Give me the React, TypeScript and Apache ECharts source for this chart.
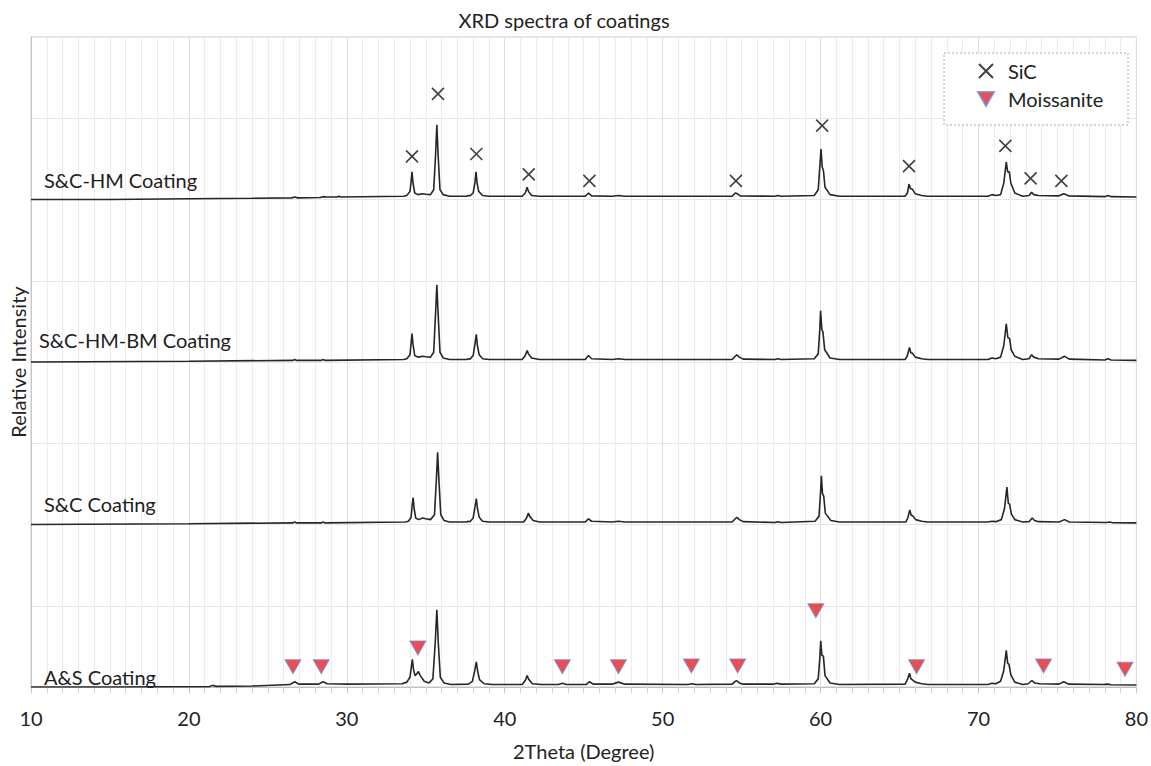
import React, { useEffect, useRef } from "react";
import * as echarts from "echarts";

const FONT = "Lato, 'Open Sans', sans-serif";

const seriesNames = ["S&C-HM Coating", "S&C-HM-BM Coating", "S&C Coating", "A&S Coating"];

const sHM: number[][] = [
  [10, 6.0], [15, 6.0], [20, 6.01], [24, 6.015], [26.5, 6.02], [26.7, 6.03], [26.9, 6.02], [28.3, 6.025], [28.5, 6.035], [28.7, 6.03],
  [29.4, 6.03], [29.5, 6.04], [29.6, 6.03], [33.6, 6.04], [33.8, 6.05], [34.0, 6.1], [34.08, 6.24], [34.13, 6.34], [34.19, 6.2], [34.3, 6.08],
  [34.5, 6.06], [34.8, 6.07], [35.0, 6.065], [35.3, 6.06], [35.5, 6.12], [35.62, 6.55], [35.7, 6.92], [35.78, 6.55], [35.9, 6.12], [36.1, 6.06],
  [36.5, 6.04], [37.6, 6.04], [37.7, 6.05], [37.8, 6.045], [38.0, 6.08], [38.12, 6.22], [38.18, 6.34], [38.25, 6.2], [38.35, 6.1], [38.6, 6.05],
  [39.0, 6.04], [41.1, 6.04], [41.3, 6.08], [41.42, 6.15], [41.5, 6.1], [41.7, 6.05], [42.2, 6.04], [45.1, 6.04], [45.3, 6.08], [45.5, 6.045],
  [46.8, 6.04], [47.2, 6.05], [47.6, 6.04], [54.4, 6.04], [54.6, 6.08], [54.75, 6.07], [54.9, 6.045], [57.1, 6.04], [57.3, 6.05], [57.5, 6.04],
  [59.6, 6.05], [59.85, 6.12], [59.95, 6.4], [60.03, 6.62], [60.1, 6.4], [60.18, 6.36], [60.28, 6.15], [60.6, 6.06], [61.2, 6.04], [65.35, 6.04],
  [65.5, 6.08], [65.6, 6.19], [65.7, 6.13], [65.8, 6.13], [66.0, 6.07], [66.4, 6.05], [66.8, 6.04], [70.6, 6.04], [70.85, 6.06], [71.1, 6.05],
  [71.4, 6.06], [71.6, 6.2], [71.76, 6.46], [71.85, 6.34], [71.95, 6.34], [72.05, 6.2], [72.3, 6.08], [72.8, 6.04], [73.2, 6.05], [73.36, 6.09],
  [73.5, 6.06], [73.8, 6.05], [75.1, 6.045], [75.4, 6.07], [75.7, 6.045], [78.0, 6.035], [78.2, 6.05], [78.4, 6.035], [80, 6.03],
];

const sHMBM: number[][] = [
  [10, 4.0], [20, 4.01], [26.6, 4.02], [26.7, 4.03], [26.8, 4.02], [28.4, 4.02], [28.5, 4.03], [28.6, 4.02], [33.6, 4.03], [33.8, 4.04],
  [34.0, 4.09], [34.08, 4.25], [34.13, 4.35], [34.19, 4.22], [34.3, 4.08], [34.5, 4.06], [34.8, 4.07], [35.0, 4.065], [35.3, 4.06], [35.5, 4.12],
  [35.62, 4.6], [35.7, 4.95], [35.78, 4.6], [35.9, 4.12], [36.1, 4.05], [36.5, 4.03], [37.6, 4.03], [37.7, 4.04], [37.8, 4.035], [38.0, 4.08],
  [38.12, 4.23], [38.2, 4.34], [38.27, 4.2], [38.38, 4.09], [38.6, 4.04], [39.0, 4.03], [41.1, 4.03], [41.3, 4.08], [41.42, 4.14], [41.5, 4.1],
  [41.7, 4.05], [42.2, 4.03], [45.1, 4.03], [45.3, 4.08], [45.5, 4.04], [46.8, 4.03], [47.2, 4.04], [47.6, 4.03], [54.4, 4.03], [54.6, 4.07],
  [54.7, 4.09], [54.85, 4.06], [55.1, 4.035], [57.1, 4.03], [57.3, 4.04], [57.5, 4.03], [59.6, 4.04], [59.85, 4.1], [59.95, 4.4], [60.0, 4.63],
  [60.08, 4.4], [60.15, 4.37], [60.26, 4.15], [60.6, 4.05], [61.2, 4.03], [65.35, 4.03], [65.5, 4.08], [65.63, 4.18], [65.72, 4.11], [65.8, 4.11],
  [66.0, 4.06], [66.4, 4.04], [66.8, 4.03], [70.6, 4.03], [70.85, 4.05], [71.1, 4.04], [71.4, 4.06], [71.6, 4.2], [71.76, 4.47], [71.86, 4.3],
  [71.97, 4.29], [72.07, 4.15], [72.3, 4.07], [72.8, 4.03], [73.2, 4.04], [73.36, 4.09], [73.5, 4.06], [73.8, 4.04], [75.1, 4.035], [75.45, 4.07],
  [75.75, 4.035], [78.0, 4.025], [78.2, 4.04], [78.4, 4.025], [80, 4.02],
];

const sSC: number[][] = [
  [10, 2.0], [20, 2.01], [26.6, 2.02], [26.7, 2.03], [26.8, 2.02], [28.4, 2.02], [28.5, 2.03], [28.6, 2.02], [33.7, 2.03], [33.9, 2.04],
  [34.07, 2.09], [34.14, 2.24], [34.2, 2.33], [34.26, 2.2], [34.36, 2.08], [34.55, 2.06], [34.8, 2.08], [35.0, 2.07], [35.3, 2.06], [35.55, 2.12],
  [35.67, 2.55], [35.75, 2.89], [35.83, 2.55], [35.95, 2.12], [36.15, 2.05], [36.5, 2.03], [37.6, 2.03], [37.7, 2.04], [37.8, 2.035], [38.0, 2.08],
  [38.12, 2.22], [38.2, 2.32], [38.27, 2.2], [38.38, 2.09], [38.6, 2.04], [39.0, 2.03], [41.2, 2.03], [41.38, 2.08], [41.5, 2.14], [41.58, 2.1],
  [41.8, 2.05], [42.2, 2.03], [45.1, 2.03], [45.3, 2.07], [45.5, 2.04], [46.8, 2.03], [47.2, 2.04], [47.6, 2.03], [54.4, 2.03], [54.6, 2.07],
  [54.7, 2.09], [54.85, 2.06], [55.1, 2.035], [57.1, 2.025], [57.3, 2.035], [57.5, 2.025], [59.65, 2.04], [59.9, 2.1], [60.0, 2.4], [60.05, 2.6],
  [60.12, 2.38], [60.2, 2.35], [60.3, 2.14], [60.65, 2.05], [61.2, 2.03], [65.4, 2.03], [65.52, 2.08], [65.65, 2.18], [65.74, 2.11], [65.82, 2.11],
  [66.02, 2.06], [66.4, 2.04], [66.8, 2.03], [70.6, 2.03], [70.85, 2.04], [71.1, 2.035], [71.45, 2.06], [71.65, 2.2], [71.8, 2.46], [71.89, 2.26],
  [71.97, 2.25], [72.08, 2.13], [72.3, 2.06], [72.8, 2.03], [73.2, 2.035], [73.4, 2.08], [73.55, 2.05], [73.8, 2.035], [75.1, 2.03], [75.45, 2.06],
  [75.75, 2.03], [78.1, 2.025], [78.3, 2.03], [78.5, 2.022], [80, 2.02],
];

const sAS: number[][] = [
  [10, 0.0], [15, 0.0], [21.3, 0.005], [21.5, 0.02], [21.7, 0.008], [24, 0.012], [26.4, 0.03], [26.7, 0.065], [26.95, 0.035], [28.2, 0.035],
  [28.5, 0.065], [28.75, 0.04], [30, 0.035], [33.5, 0.04], [33.8, 0.06], [34.0, 0.12], [34.09, 0.25], [34.15, 0.34], [34.22, 0.22], [34.32, 0.14],
  [34.42, 0.16], [34.53, 0.19], [34.65, 0.14], [34.9, 0.07], [35.2, 0.05], [35.45, 0.1], [35.6, 0.55], [35.7, 0.95], [35.79, 0.55], [35.92, 0.12],
  [36.15, 0.05], [36.6, 0.03], [37.7, 0.035], [37.95, 0.07], [38.1, 0.2], [38.2, 0.31], [38.28, 0.2], [38.4, 0.09], [38.7, 0.04], [39.2, 0.03],
  [41.1, 0.03], [41.3, 0.08], [41.42, 0.14], [41.5, 0.1], [41.75, 0.04], [42.3, 0.03], [43.4, 0.03], [43.65, 0.045], [43.9, 0.03], [45.15, 0.03],
  [45.37, 0.065], [45.6, 0.035], [46.8, 0.035], [47.2, 0.06], [47.6, 0.035], [51.6, 0.03], [51.86, 0.04], [52.1, 0.03], [54.4, 0.035], [54.6, 0.07],
  [54.7, 0.077], [54.85, 0.05], [55.1, 0.035], [57.0, 0.035], [57.23, 0.045], [57.5, 0.035], [59.6, 0.04], [59.85, 0.1], [59.95, 0.35], [60.01, 0.57],
  [60.08, 0.39], [60.18, 0.38], [60.28, 0.14], [60.6, 0.05], [61.2, 0.03], [65.35, 0.035], [65.5, 0.09], [65.63, 0.17], [65.72, 0.1], [65.8, 0.09],
  [66.0, 0.06], [66.4, 0.04], [66.8, 0.03], [70.6, 0.03], [70.85, 0.045], [71.1, 0.04], [71.4, 0.07], [71.6, 0.2], [71.76, 0.45], [71.85, 0.29],
  [71.93, 0.28], [72.05, 0.15], [72.3, 0.06], [72.8, 0.03], [73.15, 0.04], [73.38, 0.08], [73.55, 0.05], [73.9, 0.04], [75.1, 0.035], [75.4, 0.065],
  [75.7, 0.035], [77.9, 0.03], [78.18, 0.035], [78.4, 0.028], [80, 0.025],
];

const spectra = [sHM, sHMBM, sSC, sAS];

const sicMarks: number[][] = [
  [34.13, 6.53], [35.77, 7.3], [38.2, 6.56], [41.52, 6.31], [45.36, 6.23], [54.64, 6.23],
  [60.1, 6.91], [65.6, 6.41], [71.7, 6.66], [73.3, 6.26], [75.25, 6.23],
];

const moissaniteMarks: number[][] = [
  [26.59, 0.25], [28.38, 0.25], [34.5, 0.48], [43.65, 0.25], [47.2, 0.25], [51.82, 0.26],
  [54.75, 0.26], [59.7, 0.94], [66.08, 0.25], [74.12, 0.26], [79.28, 0.22],
];

const xTicks = [10, 20, 30, 40, 50, 60, 70, 80];

const labelPos = [
  { x: 44, y: 180 },
  { x: 39, y: 340 },
  { x: 44, y: 504 },
  { x: 44, y: 677 },
];

export default function App() {
  const ref = useRef<HTMLDivElement>(null);
  useEffect(() => {
    if (!ref.current) return;
    const chart = echarts.init(ref.current, undefined, { renderer: "svg" });
    const lineSeries = spectra.map((d, i) => ({
      name: seriesNames[i],
      type: "line",
      data: d,
      showSymbol: false,
      symbol: "none",
      silent: true,
      z: 2,
      lineStyle: { color: "#262626", width: 1.6 },
    }));
    chart.setOption({
      animation: false,
      textStyle: { fontFamily: FONT },
      title: {
        text: "XRD spectra of coatings",
        left: 559,
        textAlign: "center",
        top: 5,
        textStyle: { fontFamily: FONT, fontSize: 20, fontWeight: "normal", color: "#222" },
      },
      grid: {
        left: 29,
        right: 14,
        top: 37,
        bottom: 74,
        show: true,
        borderColor: "#c8c8c8",
        borderWidth: 1,
        backgroundColor: "transparent",
      },
      legend: {
        data: ["SiC", "Moissanite"],
        orient: "vertical",
        left: 972,
        top: 56,
        itemWidth: 16,
        itemHeight: 14,
        itemGap: 8,
        z: 10,
        textStyle: { fontFamily: FONT, fontSize: 20, color: "#222", padding: [0, 0, 0, 9] },
      },
      xAxis: {
        type: "value",
        min: 10,
        max: 80,
        interval: 10,
        name: "2Theta (Degree)",
        nameLocation: "middle",
        nameGap: 54,
        nameTextStyle: { fontFamily: FONT, fontSize: 20, color: "#222" },
        axisLine: { show: true, lineStyle: { color: "#bfbfbf" } },
        axisTick: { show: true, length: 6, lineStyle: { color: "#c8c8c8" } },
        minorTick: { show: true, splitNumber: 10, length: 6, lineStyle: { color: "#cfcfcf" } },
        axisLabel: {
          fontFamily: FONT,
          fontSize: 20,
          color: "#222",
          margin: 21,
          formatter: (v: number) => (xTicks.includes(v) ? String(v) : ""),
        },
        splitLine: { show: true, lineStyle: { color: "#dedede" } },
        minorSplitLine: { show: true, lineStyle: { color: "#ececec" } },
      },
      yAxis: {
        type: "value",
        min: 0,
        max: 8,
        interval: 1,
        name: "Relative Intensity",
        nameLocation: "middle",
        nameGap: 3,
        nameTextStyle: { fontFamily: FONT, fontSize: 20, color: "#222" },
        axisLabel: { show: false },
        axisTick: { show: false },
        axisLine: { show: true, lineStyle: { color: "#c8c8c8" } },
        splitLine: { show: true, lineStyle: { color: "#e6e6e6" } },
      },
      series: [
        ...lineSeries,
        {
          name: "SiC",
          type: "scatter",
          data: sicMarks,
          symbol: "path://M0,0L10,10M10,0L0,10",
          symbolSize: 12,
          z: 5,
          itemStyle: { color: "transparent", borderColor: "#111", borderWidth: 1.6 },
        },
        {
          name: "Moissanite",
          type: "scatter",
          data: moissaniteMarks,
          symbol: "path://M0,0L16,0L8,14Z",
          symbolSize: [16, 14],
          z: 5,
          itemStyle: { color: "#e4222b", borderColor: "#7f88c8", borderWidth: 1 },
        },
      ],
      graphic: [
        {
          type: "rect",
          z: 8,
          shape: { x: 944, y: 53, width: 184, height: 72 },
          style: { fill: "#ffffff", stroke: "#a8a8a8", lineWidth: 1, lineDash: [2, 2] },
        },
        ...seriesNames.map((t, i) => ({
          type: "text",
          z: 9,
          x: labelPos[i].x,
          y: labelPos[i].y,
          style: {
            text: t,
            fontFamily: FONT,
            fontSize: 20,
            fill: "#1e1e1e",
            verticalAlign: "middle",
          },
        })),
      ],
    });
    return () => chart.dispose();
  }, []);
  return (
    <div
      ref={ref}
      style={{ position: "absolute", left: 0, top: 0, width: 1151, height: 766 }}
    />
  );
}
